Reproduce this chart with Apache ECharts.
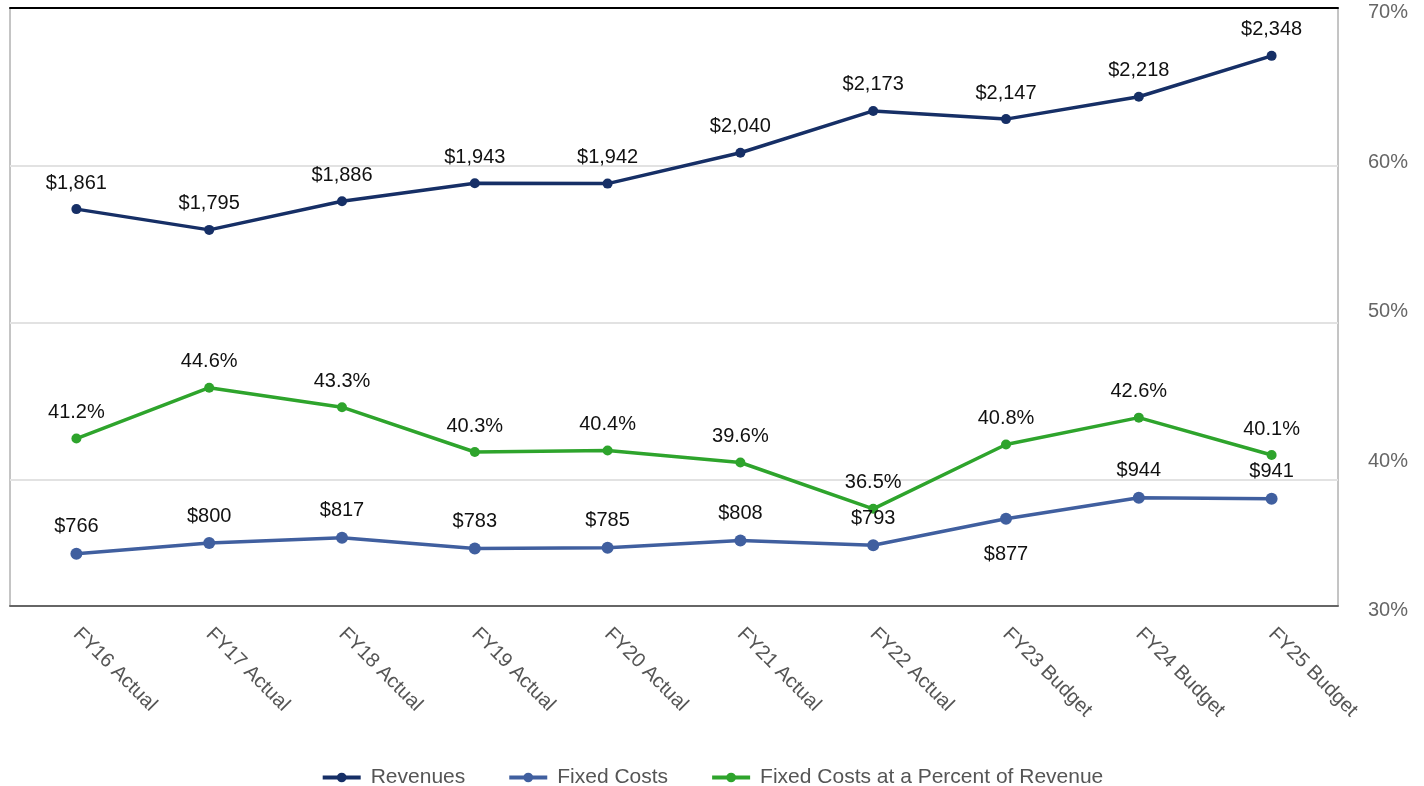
<!DOCTYPE html>
<html>
<head>
<meta charset="utf-8">
<script src="https://cdn.jsdelivr.net/npm/echarts@6/dist/echarts.min.js"></script>
<style>
  html, body { margin: 0; padding: 0; background: #fff; }
  #main { width: 1424px; height: 786px; }
</style>
</head>
<body>
<div id="main"></div>
<script>
// data
const years = ['FY16 Actual', 'FY17 Actual', 'FY18 Actual', 'FY19 Actual', 'FY20 Actual',
  'FY21 Actual', 'FY22 Actual', 'FY23 Budget', 'FY24 Budget', 'FY25 Budget']
const revenues = [1861, 1795, 1886, 1943, 1942, 2040, 2173, 2147, 2218, 2348]
const fixedCosts = [766, 800, 817, 783, 785, 808, 793, 877, 944, 941]
const fixedPct = [41.2, 44.6, 43.3, 40.3, 40.4, 39.6, 36.5, 40.8, 42.6, 40.1]
// fixed costs labels that sit below the point
const fixedBelow = [7]

const font = 'Liberation Sans, Arial, sans-serif'
const money = v => '$' + v.toLocaleString('en-US')

let chart = echarts.init(document.getElementById('main'))

const labelStyle = {
  show: true,
  position: 'top',
  distance: 11,
  color: '#111',
  fontSize: 20,
  fontFamily: font
}

const option = {
  animation: false,
  textStyle: { fontFamily: font },
  grid: {
    left: 10, right: 86, top: 8, bottom: 180,
    show: true, borderColor: '#8a8a8a', borderWidth: 1
  },
  legend: {
    top: 762,
    left: 'center',
    itemWidth: 38,
    itemHeight: 12,
    itemGap: 42,
    lineStyle: { width: 4 },
    textStyle: { color: '#555', fontSize: 21, fontFamily: font, padding: [0, 0, 0, 5] },
    data: ['Revenues', 'Fixed Costs', 'Fixed Costs at a Percent of Revenue']
  },
  xAxis: [
    {
      type: 'category',
      data: years,
      boundaryGap: true,
      axisLine: { lineStyle: { color: '#666', width: 2 } },
      axisTick: { show: false },
      axisLabel: {
        rotate: -45,
        margin: 25,
        color: '#555',
        fontSize: 20,
        fontFamily: font
      }
    },
    {
      type: 'category',
      data: years,
      position: 'top',
      axisLine: { lineStyle: { color: '#000', width: 2 } },
      axisTick: { show: false },
      axisLabel: { show: false }
    }
  ],
  yAxis: [
    {
      type: 'value',
      min: 600,
      max: 2500,
      splitNumber: 4,
      axisLabel: { show: false },
      axisLine: { show: false },
      axisTick: { show: false },
      splitLine: { lineStyle: { color: '#e2e2e2', width: 2 } }
    },
    {
      type: 'value',
      min: 30,
      max: 70,
      interval: 10,
      position: 'right',
      axisLine: { show: false },
      axisTick: { show: false },
      splitLine: { show: false },
      axisLabel: {
        formatter: v => '{p|' + v + '%}',
        margin: 30,
        rich: {
          p: { padding: [9, 0, 0, 0], color: '#666', fontSize: 20, fontFamily: font }
        }
      }
    }
  ],
  series: [
    {
      name: 'Revenues',
      type: 'line',
      yAxisIndex: 0,
      data: revenues,
      color: '#162f66',
      symbol: 'circle',
      symbolSize: 10,
      lineStyle: { width: 3.5 },
      label: Object.assign({}, labelStyle, { formatter: p => money(p.value) })
    },
    {
      name: 'Fixed Costs',
      type: 'line',
      yAxisIndex: 0,
      data: fixedCosts.map((v, i) => fixedBelow.includes(i)
        ? { value: v, label: { position: 'bottom', distance: 20 } }
        : v),
      color: '#405f9f',
      symbol: 'circle',
      symbolSize: 12,
      lineStyle: { width: 3.5 },
      label: Object.assign({}, labelStyle, { formatter: p => money(p.value) })
    },
    {
      name: 'Fixed Costs at a Percent of Revenue',
      type: 'line',
      yAxisIndex: 1,
      data: fixedPct,
      color: '#2ea42c',
      symbol: 'circle',
      symbolSize: 10,
      lineStyle: { width: 3.5 },
      label: Object.assign({}, labelStyle, { formatter: p => p.value.toFixed(1) + '%' })
    }
  ]
}

chart.setOption(option)
</script>
</body>
</html>
